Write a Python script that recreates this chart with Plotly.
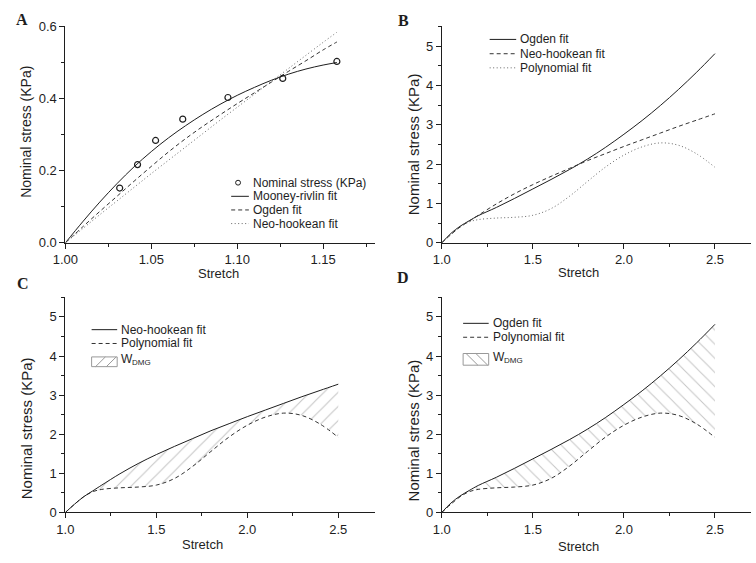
import plotly.graph_objects as go

# ---------------- data ----------------
# Panel A
stretch_a_pts = [1.0316, 1.042, 1.0525, 1.0683, 1.0946, 1.1265, 1.158]
stress_a_pts = [0.152, 0.217, 0.284, 0.343, 0.403, 0.456, 0.503]

stretch_a_fit = [1.00, 1.01, 1.02, 1.03, 1.04, 1.05, 1.06, 1.07, 1.08, 1.09,
                 1.10, 1.11, 1.12, 1.13, 1.14, 1.15, 1.158]
mooney_a = [0, 0.058, 0.113, 0.164, 0.211, 0.253, 0.291, 0.325, 0.356, 0.384,
            0.409, 0.431, 0.451, 0.468, 0.482, 0.493, 0.500]
ogden_a = [0, 0.044, 0.087, 0.129, 0.171, 0.212, 0.252, 0.289, 0.323, 0.355,
           0.386, 0.416, 0.446, 0.476, 0.505, 0.535, 0.557]
neo_a = [0, 0.039, 0.078, 0.116, 0.154, 0.192, 0.229, 0.266, 0.303, 0.340,
         0.376, 0.412, 0.448, 0.484, 0.520, 0.556, 0.584]

# Panels B, C, D
stretch_bd = [1.0, 1.05, 1.1, 1.15, 1.2, 1.3, 1.4, 1.5, 1.6, 1.7, 1.8, 1.9,
              2.0, 2.1, 2.2, 2.3, 2.4, 2.5]
ogden_bd = [0, 0.24, 0.42, 0.56, 0.69, 0.90, 1.13, 1.37, 1.61, 1.86, 2.13,
            2.43, 2.76, 3.11, 3.49, 3.90, 4.34, 4.81]
neo_bd = [0, 0.21, 0.40, 0.55, 0.70, 0.99, 1.25, 1.48, 1.69, 1.89, 2.09,
          2.27, 2.45, 2.62, 2.79, 2.96, 3.12, 3.28]
poly_bd = [0, 0.21, 0.40, 0.53, 0.59, 0.63, 0.65, 0.70, 0.87, 1.18, 1.56,
           1.93, 2.23, 2.44, 2.54, 2.48, 2.26, 1.92]

# tick settings
a_xticks = [1.00, 1.05, 1.10, 1.15]
a_yticks = [0.0, 0.2, 0.4, 0.6]
bd_xticks = [1.0, 1.5, 2.0, 2.5]
bd_yticks = [0, 1, 2, 3, 4, 5]

# ---------------- layout helpers ----------------
W, H = 756, 563


def px(x):
    return x / W


def py(y):
    return 1 - y / H


INK = "#1e1e1e"
FONT = "Liberation Sans, Arial, sans-serif"
SERIF = "Liberation Serif, Times New Roman, serif"
DASH = "4px,3px"
DOT = "1px,2.5px"

fig = go.Figure()

# ---- Panel A ----
fig.add_trace(go.Scatter(x=stretch_a_fit, y=mooney_a, mode="lines", line=dict(color=INK, width=1, shape="spline"),
                         xaxis="x", yaxis="y", showlegend=False, name="Mooney-rivlin fit"))
fig.add_trace(go.Scatter(x=stretch_a_fit, y=ogden_a, mode="lines",
                         line=dict(color="#333333", width=1, dash=DASH, shape="spline"),
                         xaxis="x", yaxis="y", showlegend=False, name="Ogden fit"))
fig.add_trace(go.Scatter(x=stretch_a_fit, y=neo_a, mode="lines",
                         line=dict(color="#666666", width=1, dash=DOT, shape="spline"),
                         xaxis="x", yaxis="y", showlegend=False, name="Neo-hookean fit"))
fig.add_trace(go.Scatter(x=stretch_a_pts, y=stress_a_pts, mode="markers",
                         marker=dict(symbol="circle-open", size=6, color=INK, line=dict(width=1.2, color=INK)),
                         xaxis="x", yaxis="y", showlegend=False, name="Nominal stress (KPa)"))

# ---- Panel B ----
fig.add_trace(go.Scatter(x=stretch_bd, y=ogden_bd, mode="lines", line=dict(color=INK, width=1, shape="spline"),
                         xaxis="x2", yaxis="y2", showlegend=False, name="Ogden fit"))
fig.add_trace(go.Scatter(x=stretch_bd, y=neo_bd, mode="lines",
                         line=dict(color="#333333", width=1, dash=DASH, shape="spline"),
                         xaxis="x2", yaxis="y2", showlegend=False, name="Neo-hookean fit"))
fig.add_trace(go.Scatter(x=stretch_bd, y=poly_bd, mode="lines",
                         line=dict(color="#666666", width=1, dash=DOT, shape="spline"),
                         xaxis="x2", yaxis="y2", showlegend=False, name="Polynomial fit"))

# ---- Panel C ----
fig.add_trace(go.Scatter(x=stretch_bd, y=poly_bd, mode="lines",
                         line=dict(color="#333333", width=1, dash=DASH, shape="spline"),
                         xaxis="x3", yaxis="y3", showlegend=False, name="Polynomial fit"))
fig.add_trace(go.Scatter(x=stretch_bd, y=neo_bd, mode="lines", line=dict(color=INK, width=1, shape="spline"),
                         fill="tonexty", fillcolor="rgba(0,0,0,0)",
                         fillpattern=dict(shape="/", size=10, solidity=0.1, fgcolor="#8a8a8a",
                                          bgcolor="rgba(0,0,0,0)"),
                         xaxis="x3", yaxis="y3", showlegend=False, name="Neo-hookean fit"))

# ---- Panel D ----
fig.add_trace(go.Scatter(x=stretch_bd, y=poly_bd, mode="lines",
                         line=dict(color="#333333", width=1, dash=DASH, shape="spline"),
                         xaxis="x4", yaxis="y4", showlegend=False, name="Polynomial fit"))
fig.add_trace(go.Scatter(x=stretch_bd, y=ogden_bd, mode="lines", line=dict(color=INK, width=1, shape="spline"),
                         fill="tonexty", fillcolor="rgba(0,0,0,0)",
                         fillpattern=dict(shape="\\", size=10, solidity=0.1, fgcolor="#8a8a8a",
                                          bgcolor="rgba(0,0,0,0)"),
                         xaxis="x4", yaxis="y4", showlegend=False, name="Ogden fit"))


def axis(domain, rng, tickvals, fmt, minor_dtick, anchor):
    return dict(domain=domain, range=rng, anchor=anchor, showline=True, linecolor=INK, linewidth=1,
                ticks="outside", ticklen=5, tickwidth=1, tickcolor=INK, tickvals=tickvals,
                tickformat=fmt, showgrid=False, zeroline=False,
                tickfont=dict(family=FONT, size=13, color=INK),
                minor=dict(ticks="outside", ticklen=3, tickwidth=1, tickcolor=INK, dtick=minor_dtick,
                           showgrid=False))


dom_x_left = [px(53.3), px(368.0)]
dom_x_right = [px(436.3), px(751.3)]
dom_y_top = [py(242.3), py(20.0)]
dom_y_bot = [py(519.3), py(298.3)]

fig.update_layout(
    width=W, height=H, margin=dict(l=0, r=0, t=0, b=0),
    paper_bgcolor="white", plot_bgcolor="white",
    xaxis=axis(dom_x_left, [1.0, 1.18], a_xticks, ".2f", 0.025, "y"),
    yaxis=axis(dom_y_top, [0, 0.6], a_yticks, ".1f", 0.1, "x"),
    xaxis2=axis(dom_x_right, [1.0, 2.7], bd_xticks, ".1f", 0.25, "y2"),
    yaxis2=axis(dom_y_top, [0, 5.5], bd_yticks, "d", 0.5, "x2"),
    xaxis3=axis(dom_x_left, [1.0, 2.7], bd_xticks, ".1f", 0.25, "y3"),
    yaxis3=axis(dom_y_bot, [0, 5.5], bd_yticks, "d", 0.5, "x3"),
    xaxis4=axis(dom_x_right, [1.0, 2.7], bd_xticks, ".1f", 0.25, "y4"),
    yaxis4=axis(dom_y_bot, [0, 5.5], bd_yticks, "d", 0.5, "x4"),
)

annotations = []
shapes = []


def text(x, y, s, size=12, anchor="left", family=FONT, angle=0, weight="normal"):
    annotations.append(dict(x=px(x), y=py(y), xref="paper", yref="paper", text=s,
                            showarrow=False, xanchor=anchor, yanchor="middle", textangle=angle,
                            font=dict(family=family, size=size, color=INK, weight=weight)))


def seg(x0, y0, x1, y1, color=INK, dash="solid", width=1):
    shapes.append(dict(type="line", xref="paper", yref="paper", x0=px(x0), y0=py(y0), x1=px(x1), y1=py(y1),
                       line=dict(color=color, width=width, dash=dash)))


# panel letters
text(9, 13, "A", size=16, anchor="center", family=SERIF, weight="bold")
text(397, 14, "B", size=16, anchor="center", family=SERIF, weight="bold")
text(10, 284, "C", size=16, anchor="center", family=SERIF, weight="bold")
text(397, 278, "D", size=16, anchor="center", family=SERIF, weight="bold")

# axis titles
text(209, 274, "Stretch", size=13, anchor="center")
text(575.5, 273, "Stretch", size=13, anchor="center")
text(192.5, 552, "Stretch", size=13, anchor="center")
text(575.5, 554, "Stretch", size=13, anchor="center")
text(12.5, 128, "Nominal stress (KPa)", size=14, anchor="center", angle=-90)
text(407, 141, "Nominal stress (KPa)", size=15, anchor="center", angle=-90)
text(14, 433, "Nominal stress (KPa)", size=15, anchor="center", angle=-90)
text(407, 435, "Nominal stress (KPa)", size=15, anchor="center", angle=-90)

# legend A
shapes.append(dict(type="circle", xref="paper", yref="paper", x0=px(226.5), x1=px(231.5), y0=py(183),
                   y1=py(178), line=dict(color=INK, width=1)))
text(242, 180.5, "Nominal stress (KPa)")
seg(222, 194.5, 240, 194.5)
text(242, 194.5, "Mooney-rivlin fit")
seg(222, 208.5, 240, 208.5, color="#333333", dash=DASH)
text(242, 208.5, "Ogden fit")
seg(222, 222.5, 240, 222.5, color="#666666", dash=DOT)
text(242, 222.5, "Neo-hookean fit")

# legend B
seg(485, 33.3, 512, 33.3)
text(514, 33.3, "Ogden fit")
seg(485, 48, 512, 48, color="#333333", dash=DASH)
text(514, 48, "Neo-hookean fit")
seg(485, 62.5, 512, 62.5, color="#666666", dash=DOT)
text(514, 62.5, "Polynomial fit")

# legend C
seg(80, 331.5, 106, 331.5)
text(108, 331.5, "Neo-hookean fit")
seg(80, 345.7, 106, 345.7, color="#333333", dash=DASH)
text(108, 345.7, "Polynomial fit")
shapes.append(dict(type="rect", xref="paper", yref="paper", x0=px(80), x1=px(106), y0=py(369.5), y1=py(359.5),
                   line=dict(color="#999999", width=1)))
seg(84, 369.5, 94, 359.5, color="#999999")
seg(95, 369.5, 105, 359.5, color="#999999")
text(108, 361.5, "W")
text(119.5, 365, "DMG", size=8)

# legend D
seg(458, 325, 484, 325)
text(486, 325, "Ogden fit")
seg(458, 339.3, 484, 339.3, color="#333333", dash=DASH)
text(486, 339.3, "Polynomial fit")
shapes.append(dict(type="rect", xref="paper", yref="paper", x0=px(458), x1=px(484), y0=py(368), y1=py(356),
                   line=dict(color="#999999", width=1)))
seg(461, 356, 473, 368, color="#999999")
seg(471, 356, 483, 368, color="#999999")
text(486, 359.5, "W")
text(497.5, 363, "DMG", size=8)

fig.update_layout(annotations=annotations, shapes=shapes)

fig.write_html("out.html", config={"displayModeBar": False},
               post_script="document.body.style.margin='0';document.body.style.overflow='hidden';")
